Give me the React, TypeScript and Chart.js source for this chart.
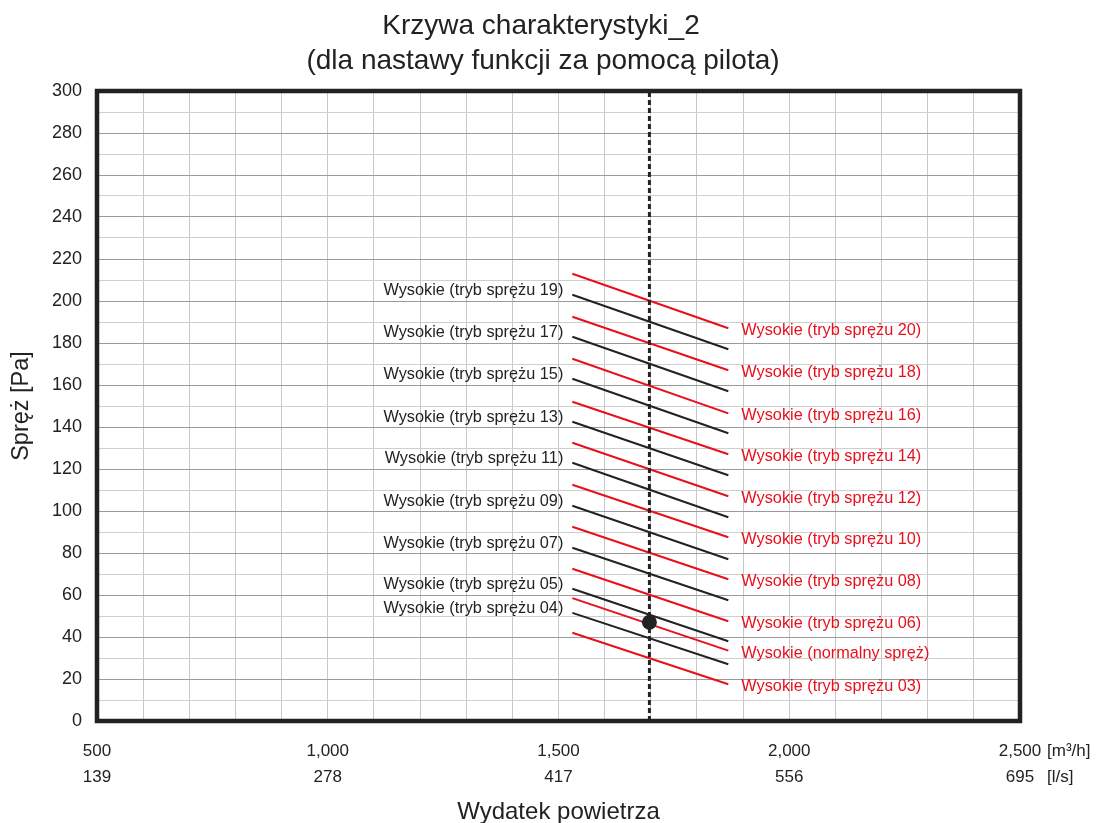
import React, { useEffect, useRef } from "react";
import { Chart, registerables } from "chart.js";

Chart.register(...registerables);

// ---- data ----
const titleLines = ["Krzywa charakterystyki_2", "(dla nastawy funkcji za pomocą pilota)"];
const yAxisTitle = "Spręż [Pa]";
const xAxisTitle = "Wydatek powietrza";
const unitM3h = "[m³/h]";
const unitLs = "[l/s]";

// flow range of each characteristic line [m3/h]
const lineFlow = [1530, 1868];

// black curves (labelled on the left)
const blackLabels = [
  "Wysokie (tryb sprężu 19)",
  "Wysokie (tryb sprężu 17)",
  "Wysokie (tryb sprężu 15)",
  "Wysokie (tryb sprężu 13)",
  "Wysokie (tryb sprężu 11)",
  "Wysokie (tryb sprężu 09)",
  "Wysokie (tryb sprężu 07)",
  "Wysokie (tryb sprężu 05)",
  "Wysokie (tryb sprężu 04)",
];
const blackStart = [203, 183, 163, 142.5, 123, 102.5, 82.5, 63, 51.5];
const blackEnd = [177, 157, 137, 117, 97, 77, 57.5, 38, 27];

// red curves (labelled on the right)
const redLabels = [
  "Wysokie (tryb sprężu 20)",
  "Wysokie (tryb sprężu 18)",
  "Wysokie (tryb sprężu 16)",
  "Wysokie (tryb sprężu 14)",
  "Wysokie (tryb sprężu 12)",
  "Wysokie (tryb sprężu 10)",
  "Wysokie (tryb sprężu 08)",
  "Wysokie (tryb sprężu 06)",
  "Wysokie (normalny spręż)",
  "Wysokie (tryb sprężu 03)",
];
const redStart = [213, 192.5, 172.5, 152, 132.5, 112.5, 92.5, 72.5, 58.5, 42];
const redEnd = [187, 167, 146.5, 127, 107, 87.5, 67.5, 47.5, 33.5, 17.5];

// operating point
const opFlow = 1697;
const opPa = 47;

// axes
const xMin = 500;
const xMax = 2500;
const yMin = 0;
const yMax = 300;
const xMajorTicks = [500, 1000, 1500, 2000, 2500];
const xLsTicks = ["139", "278", "417", "556", "695"];

const FONT = "'Liberation Sans', Arial, sans-serif";
const RED = "#e8101c";
const INK = "#222222";

export default function App() {
  const ref = useRef<HTMLCanvasElement | null>(null);

  useEffect(() => {
    const canvas = ref.current;
    if (!canvas) return;

    const datasets: any[] = [];
    datasets.push({
      label: "point",
      data: [{ x: opFlow, y: opPa }],
      showLine: false,
      pointRadius: 7.5,
      pointBackgroundColor: INK,
      pointBorderWidth: 0,
    });
    datasets.push({
      label: "dash",
      data: [
        { x: opFlow, y: yMin },
        { x: opFlow, y: yMax },
      ],
      borderColor: INK,
      borderWidth: 3,
      borderDash: [5, 3],
      pointRadius: 0,
    });
    const blackIdx: number[] = [];
    const redIdx: number[] = [];
    blackLabels.forEach((name, i) => {
      blackIdx.push(datasets.length);
      datasets.push({
        label: name,
        data: [
          { x: lineFlow[0], y: blackStart[i] },
          { x: lineFlow[1], y: blackEnd[i] },
        ],
        borderColor: INK,
        borderWidth: 2,
        pointRadius: 0,
      });
    });
    redLabels.forEach((name, i) => {
      redIdx.push(datasets.length);
      datasets.push({
        label: name,
        data: [
          { x: lineFlow[0], y: redStart[i] },
          { x: lineFlow[1], y: redEnd[i] },
        ],
        borderColor: RED,
        borderWidth: 2,
        pointRadius: 0,
      });
    });

    const deco = {
      id: "deco",
      afterDatasetsDraw(chart: any) {
        const ctx = chart.ctx as CanvasRenderingContext2D;
        const a = chart.chartArea;
        ctx.save();
        // frame
        ctx.strokeStyle = INK;
        ctx.lineWidth = 4.5;
        ctx.strokeRect(a.left, a.top, a.right - a.left, a.bottom - a.top);

        // line labels
        ctx.font = `16.3px ${FONT}`;
        ctx.textBaseline = "middle";
        ctx.fillStyle = INK;
        ctx.textAlign = "right";
        blackIdx.forEach((di) => {
          const p = chart.getDatasetMeta(di).data[0];
          ctx.fillText(chart.data.datasets[di].label, p.x - 9, p.y - 4);
        });
        ctx.fillStyle = RED;
        ctx.textAlign = "left";
        redIdx.forEach((di) => {
          const p = chart.getDatasetMeta(di).data[1];
          ctx.fillText(chart.data.datasets[di].label, p.x + 13, p.y + 2.5);
        });

        // title
        ctx.fillStyle = INK;
        ctx.textAlign = "center";
        ctx.textBaseline = "alphabetic";
        ctx.font = `28px ${FONT}`;
        ctx.fillText(titleLines[0], 541, 34);
        ctx.fillText(titleLines[1], 543, 69);

        // axis titles
        ctx.font = `24px ${FONT}`;
        ctx.fillText(xAxisTitle, (a.left + a.right) / 2, 819);
        ctx.font = `23.5px ${FONT}`;
        ctx.save();
        ctx.translate(28, (a.top + a.bottom) / 2);
        ctx.rotate(-Math.PI / 2);
        ctx.fillText(yAxisTitle, 0, 0);
        ctx.restore();

        // units
        ctx.font = `17px ${FONT}`;
        ctx.textAlign = "left";
        ctx.textBaseline = "middle";
        ctx.fillText(unitM3h, a.right + 27, a.bottom + 30);
        ctx.fillText(unitLs, a.right + 27, a.bottom + 56);
        ctx.restore();
      },
    };

    const chart = new Chart(canvas, {
      type: "line",
      data: { datasets },
      options: {
        responsive: false,
        animation: false,
        events: [],
        layout: { padding: { left: 0, top: 91, right: 82, bottom: 0 } },
        plugins: {
          legend: { display: false },
          tooltip: { enabled: false },
          title: { display: false },
        },
        elements: { line: { tension: 0 } },
        scales: {
          x: {
            type: "linear",
            position: "bottom",
            min: xMin,
            max: xMax,
            afterFit: (s: any) => {
              s.height = 102;
            },
            border: { display: false },
            grid: { color: "#c8c8c8", lineWidth: 1, drawTicks: false },
            ticks: {
              stepSize: 100,
              autoSkip: false,
              maxRotation: 0,
              minRotation: 0,
              padding: 17,
              color: INK,
              font: { family: FONT, size: 17, lineHeight: 26 / 17 },
              callback: (v: any) => {
                const k = xMajorTicks.indexOf(Number(v));
                if (k < 0) return "";
                return [Number(v).toLocaleString("en-US"), xLsTicks[k]];
              },
            },
          },
          y: {
            type: "linear",
            min: yMin,
            max: yMax,
            afterFit: (s: any) => {
              s.width = 97;
            },
            border: { display: false },
            grid: {
              drawTicks: false,
              lineWidth: 1,
              color: (c: any) => (c.tick && c.tick.value % 20 === 0 ? "#9a9a9a" : "#cfcfcf"),
            },
            ticks: {
              stepSize: 10,
              autoSkip: false,
              padding: 15,
              color: INK,
              font: { family: FONT, size: 18 },
              callback: (v: any) => (Number(v) % 20 === 0 ? String(v) : ""),
            },
          },
        },
      },
      plugins: [deco],
    });

    return () => chart.destroy();
  }, []);

  return (
    <div style={{ position: "absolute", left: 0, top: 0, width: 1102, height: 823, background: "#fff" }}>
      <canvas ref={ref} width={1102} height={823} style={{ width: 1102, height: 823, display: "block" }} />
    </div>
  );
}
